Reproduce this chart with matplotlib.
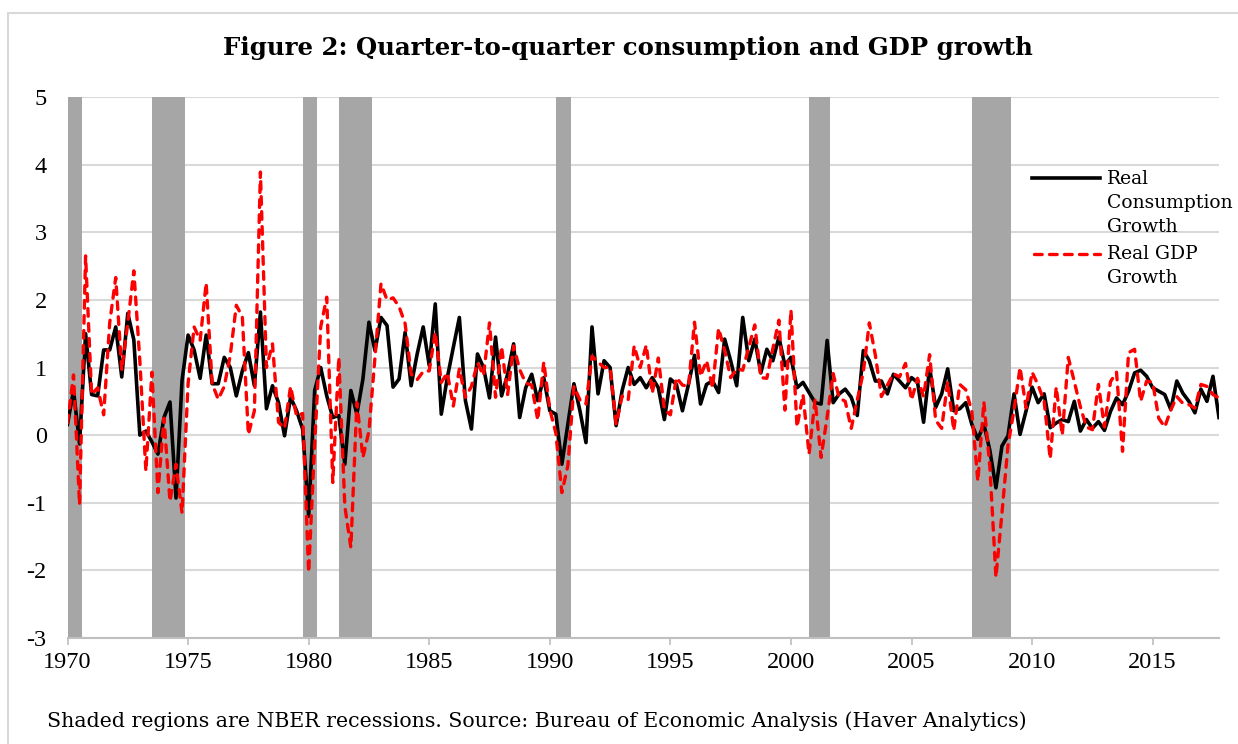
import numpy as np
import matplotlib
matplotlib.use("Agg")
import matplotlib.pyplot as plt
from matplotlib.lines import Line2D
from matplotlib.patches import Rectangle

# quarterly growth, percent, 1970Q2 .. 2018Q1
consumption = [
    0.16, 0.66, -0.13, 1.50, 0.60, 0.58, 1.26, 1.26, 1.60, 0.86, 1.80, 1.41,
    0.00, 0.06, -0.10, -0.28, 0.26, 0.49, -0.93, 0.81, 1.48, 1.26, 0.84, 1.48,
    0.76, 0.76, 1.15, 1.00, 0.58, 0.95, 1.22, 0.73, 1.82, 0.39, 0.73, 0.48,
    -0.01, 0.56, 0.36, 0.09, -1.20, 0.66, 1.00, 0.58, 0.26, 0.29, -0.43, 0.66,
    0.31, 0.83, 1.67, 1.25, 1.74, 1.62, 0.71, 0.83, 1.52, 0.73, 1.20, 1.60,
    1.03, 1.94, 0.31, 0.85, 1.30, 1.74, 0.51, 0.09, 1.20, 1.00, 0.55, 1.45,
    0.58, 0.90, 1.35, 0.26, 0.70, 0.90, 0.51, 0.85, 0.36, 0.31, -0.43, 0.16,
    0.76, 0.36, -0.11, 1.60, 0.61, 1.10, 1.00, 0.14, 0.66, 1.00, 0.75, 0.85,
    0.70, 0.85, 0.70, 0.23, 0.83, 0.75, 0.36, 0.75, 1.18, 0.46, 0.75, 0.80,
    0.63, 1.42, 1.10, 0.73, 1.74, 1.10, 1.42, 0.92, 1.27, 1.10, 1.45, 1.03,
    1.15, 0.70, 0.78, 0.63, 0.48, 0.46, 1.40, 0.48, 0.61, 0.68, 0.56, 0.29,
    1.25, 1.10, 0.80, 0.80, 0.61, 0.90, 0.80, 0.70, 0.85, 0.78, 0.19, 1.00,
    0.41, 0.61, 0.98, 0.36, 0.39, 0.48, 0.16, -0.06, 0.16, -0.23, -0.78, -0.16,
    -0.01, 0.61, 0.01, 0.36, 0.71, 0.48, 0.61, 0.11, 0.18, 0.23, 0.20, 0.50,
    0.06, 0.23, 0.10, 0.20, 0.07, 0.35, 0.55, 0.45, 0.65, 0.92, 0.96, 0.87,
    0.70, 0.65, 0.60, 0.38, 0.80, 0.62, 0.50, 0.33, 0.68, 0.50, 0.87, 0.26,
]

gdp = [
    0.18, 0.89, -1.03, 2.65, 0.60, 0.70, 0.30, 1.66, 2.33, 0.96, 1.66, 2.43,
    1.10, -0.53, 0.93, -0.85, 0.25, -0.98, -0.43, -1.15, 0.76, 1.60, 1.40, 2.25,
    0.76, 0.53, 0.72, 1.18, 1.92, 1.75, 0.01, 0.36, 3.89, 1.00, 1.35, 0.19,
    0.10, 0.72, 0.28, 0.32, -2.03, -0.13, 1.60, 2.04, -0.70, 1.15, -1.05, -1.66,
    0.48, -0.33, 0.06, 1.15, 2.24, 2.00, 2.03, 1.90, 1.65, 0.90, 0.82, 0.94,
    0.95, 1.52, 0.78, 0.92, 0.43, 0.98, 0.56, 0.72, 1.07, 0.88, 1.66, 0.56,
    1.31, 0.60, 1.32, 0.97, 0.77, 0.74, 0.22, 1.08, 0.38, 0.03, -0.85, -0.45,
    0.72, 0.52, 0.46, 1.17, 1.08, 1.00, 1.00, 0.16, 0.58, 0.52, 1.32, 1.00,
    1.33, 0.62, 1.14, 0.38, 0.30, 0.85, 0.74, 0.72, 1.67, 0.87, 1.10, 0.70,
    1.58, 1.25, 0.85, 0.98, 0.96, 1.30, 1.63, 0.85, 0.84, 1.28, 1.70, 0.37,
    1.85, 0.12, 0.60, -0.28, 0.52, -0.33, 0.27, 0.91, 0.55, 0.50, 0.10, 0.52,
    0.93, 1.66, 1.18, 0.57, 0.74, 0.91, 0.86, 1.06, 0.52, 0.84, 0.57, 1.19,
    0.22, 0.10, 0.79, 0.07, 0.75, 0.67, 0.35, -0.68, 0.49, -0.48, -2.10, -1.15,
    -0.15, 0.37, 1.00, 0.40, 0.93, 0.74, 0.50, -0.35, 0.71, 0.00, 1.15, 0.79,
    0.42, 0.12, 0.08, 0.75, 0.12, 0.79, 0.93, -0.24, 1.22, 1.27, 0.50, 0.80,
    0.78, 0.25, 0.12, 0.37, 0.57, 0.47, 0.45, 0.40, 0.75, 0.72, 0.60, 0.55,
]

tick_labels = ["1970", "1975", "1980", "1985", "1990",
               "1995", "2000", "2005", "2010", "2015"]

# NBER recessions (peak quarter, trough quarter)
recessions = [("1969Q4", "1970Q4"), ("1973Q4", "1975Q1"), ("1980Q1", "1980Q3"),
              ("1981Q3", "1982Q4"), ("1990Q3", "1991Q1"), ("2001Q1", "2001Q4"),
              ("2007Q4", "2009Q2")]


def q_index(q):
    """quarter string -> position, 1970Q2 is 0"""
    year, qq = int(q[:4]), int(q[-1])
    return (year - 1970) * 4 + qq - 2


plt.rcParams['axes.unicode_minus'] = False
serif = ['DejaVu Serif']
times = ['Liberation Serif']

fig = plt.figure(figsize=(12.38, 7.44), dpi=100)
ax = fig.add_axes([67.5 / 1238, 1 - 638 / 744, (1219 - 67.5) / 1238, (638 - 97) / 744])

x = np.arange(len(consumption))

for start, end in recessions:
    ax.axvspan(max(q_index(start), 0), q_index(end) + 0.45, color="#a6a6a6", lw=0, zorder=1)

ax.plot(x, consumption, color="black", lw=2.6, zorder=3, solid_joinstyle="round")
ax.plot(x, gdp, color="#ff0000", lw=2.4, zorder=4, linestyle=(0, (2.3, 2.2)),
        dash_capstyle="round")

ax.set_xlim(0, len(consumption) - 1)
ax.set_ylim(-3, 5)
ax.set_yticks(range(-3, 6))
ax.yaxis.grid(True, color="#d9d9d9", lw=1.5, zorder=0)
ax.set_axisbelow(True)

ax.set_xticks(x[::20])
ax.set_xticklabels(tick_labels, family=times, fontsize=17.5)
for lab in ax.get_yticklabels():
    lab.set_family(times)
    lab.set_fontsize(17.5)
ax.tick_params(axis="y", length=0, pad=15)
ax.tick_params(axis="x", length=5, color="#bfbfbf", width=1.2, pad=5)

for side in ["top", "right", "left"]:
    ax.spines[side].set_visible(False)
ax.spines["bottom"].set_color("#bfbfbf")
ax.spines["bottom"].set_linewidth(1.5)
ax.spines["bottom"].set_zorder(2)

# title and note
fig.text(628 / 1238, 1 - 48 / 744, "Figure 2: Quarter-to-quarter consumption and GDP growth",
         family=serif, fontsize=17.6, fontweight="bold", ha="center", va="center")
fig.text(47 / 1238, 1 - 721 / 744,
         "Shaded regions are NBER recessions. Source: Bureau of Economic Analysis (Haver Analytics)",
         family=serif, fontsize=14.8, ha="left", va="center")

# legend, drawn by hand so the key sits on the first text line
W, H = 1238, 744
fig.add_artist(Line2D([1032 / W, 1100 / W], [1 - 178 / H, 1 - 178 / H],
                      color="black", lw=2.6))
fig.add_artist(Line2D([1034 / W, 1100 / W], [1 - 254 / H, 1 - 254 / H],
                      color="#ff0000", lw=2.4, linestyle=(0, (2.3, 2.2)),
                      dash_capstyle="round"))
for text, yy in [("Real", 179), ("Consumption", 203), ("Growth", 227),
                 ("Real GDP", 254), ("Growth", 278)]:
    fig.text(1107 / W, 1 - yy / H, text, family=serif, fontsize=13.5,
             ha="left", va="center")

# outer chart border
fig.add_artist(Rectangle((8 / W, -0.05), 1.1, 1 - 13 / H + 0.05, transform=fig.transFigure,
                         fill=False, edgecolor="#d9d9d9", lw=1.5))

fig.savefig("out.png", dpi=100)
